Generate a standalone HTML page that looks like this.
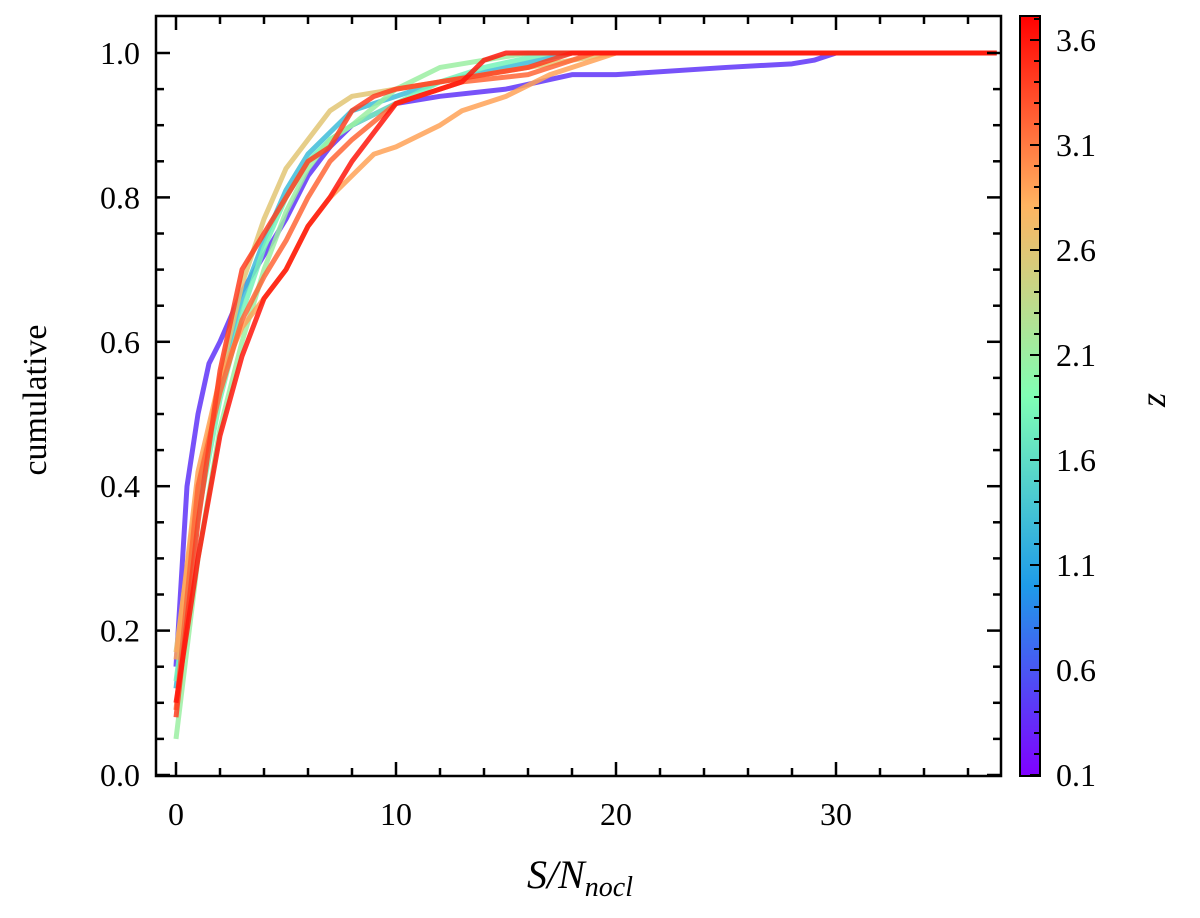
<!DOCTYPE html>
<html><head><meta charset="utf-8"><style>
body{margin:0;background:#fff}
svg{display:block;font-family:"Liberation Serif","DejaVu Serif",serif}
</style></head><body>
<svg id="c" width="1200" height="918" viewBox="0 0 1200 918">
<defs><linearGradient id="rb" x1="0" y1="1" x2="0" y2="0">
<stop offset="0" stop-color="#8000ff"/><stop offset="0.25" stop-color="#1e9be9"/><stop offset="0.5" stop-color="#80ffb4"/><stop offset="0.75" stop-color="#ffb461"/><stop offset="1" stop-color="#ff0000"/></linearGradient></defs>
<g id="series"></g>
<rect x="156" y="16" width="845" height="760" fill="none" stroke="#000" stroke-width="2.5"/>
<g id="axes"></g>
<rect x="1020" y="16" width="20" height="760" fill="url(#rb)" stroke="#000" stroke-width="2"/>
<g id="cb"></g>
<text x="46" y="400" font-size="34" text-anchor="middle" transform="rotate(-90 46 400)">cumulative</text>
<text x="580" y="888" font-size="40" font-style="italic" text-anchor="middle">S/N<tspan font-size="28" dy="8">nocl</tspan></text>
<text x="1165" y="400" font-size="36" font-style="italic" text-anchor="middle" transform="rotate(-90 1165 400)">z</text>
</svg>
<script>
const seriesZ=[0.4,1.3,1.8,2.1,2.6,2.9,3.2,3.4,3.6];
const seriesX=[
[0,0.5,1,1.5,2,3,4,5,6,7,8,10,12,15,18,20,25,28,29,30,37.3],
[0,1,2,3,4,5,6,7,8,10,12,15,18,37.3],
[0,1,2,3,4,5,6,7,8,10,12,14,17,37.3],
[0,1,2,3,4,5,6,7,8,10,12,14,16,37.3],
[0,1,2,3,4,5,6,7,8,9,12,16,20,37.3],
[0,1,2,3,4,5,6,7,8,9,10,12,13,15,17,19,20,37.3],
[0,1,2,3,4,5,6,7,8,10,13,16,18,19,37.3],
[0,1,2,3,4,5,6,7,8,9,10,12,14,16,18,37.3],
[0,1,2,3,4,5,6,7,8,9,10,12,13,14,15,37.3]];
const seriesY=[
[0.15,0.4,0.5,0.57,0.6,0.67,0.72,0.77,0.83,0.87,0.9,0.93,0.94,0.95,0.97,0.97,0.98,0.985,0.99,1,1],
[0.12,0.38,0.54,0.66,0.74,0.81,0.86,0.89,0.92,0.94,0.96,0.98,1,1],
[0.13,0.36,0.52,0.64,0.73,0.8,0.85,0.88,0.9,0.93,0.96,0.98,1,1],
[0.05,0.3,0.48,0.6,0.7,0.78,0.84,0.88,0.9,0.95,0.98,0.99,1,1],
[0.17,0.4,0.55,0.68,0.77,0.84,0.88,0.92,0.94,0.945,0.96,0.98,1,1],
[0.16,0.42,0.55,0.62,0.66,0.7,0.76,0.8,0.83,0.86,0.87,0.9,0.92,0.94,0.97,0.99,1,1],
[0.09,0.4,0.53,0.63,0.69,0.74,0.8,0.85,0.88,0.93,0.96,0.97,0.99,1,1],
[0.08,0.35,0.56,0.7,0.75,0.8,0.85,0.87,0.92,0.94,0.95,0.96,0.97,0.98,1,1],
[0.1,0.3,0.47,0.58,0.66,0.7,0.76,0.8,0.85,0.89,0.93,0.95,0.96,0.99,1,1]];
const xTicks=[0,10,20,30];
const yTicks=[0,0.2,0.4,0.6,0.8,1.0];
const cbTicks=[0.1,0.6,1.1,1.6,2.1,2.6,3.1,3.6];
const NS="http://www.w3.org/2000/svg";
const sx=v=>176+v*22, sy=v=>775-v*722, sz=v=>775-(v-0.1)*210;
const stops=[[0,[128,0,255]],[0.25,[30,155,233]],[0.5,[128,255,180]],[0.75,[255,180,97]],[1,[255,0,0]]];
function cmap(z){let t=(z-0.1)/(3.71-0.1);t=Math.max(0,Math.min(1,t));
for(let i=0;i<stops.length-1;i++){const[a,ca]=stops[i],[b,cb]=stops[i+1];if(t<=b){const f=(t-a)/(b-a);return 'rgb('+ca.map((c,k)=>Math.round(c+(cb[k]-c)*f)).join(',')+')';}}return 'red';}
function mk(tag,at,par){const e=document.createElementNS(NS,tag);for(const k in at)e.setAttribute(k,at[k]);par.appendChild(e);return e;}
const sg=document.getElementById('series'),ax=document.getElementById('axes'),cb=document.getElementById('cb');
seriesZ.forEach((z,i)=>{
const pts=seriesX[i].map((x,j)=>sx(x)+','+sy(seriesY[i][j])).join(' ');
const p=mk('polyline',{points:pts,fill:'none',stroke:cmap(z),'stroke-width':5,'stroke-opacity':0.85,'stroke-linejoin':'round'},sg);

});
for(let v=0;v<=36;v+=2){const x=sx(v),L=v%10===0?14:8;
mk('line',{x1:x,x2:x,y1:776,y2:776-L,stroke:'#000','stroke-width':2.5},ax);
mk('line',{x1:x,x2:x,y1:16,y2:16+L,stroke:'#000','stroke-width':2.5},ax);}
for(let k=0;k<=20;k++){const v=k*0.05,y=sy(v),L=k%4===0?14:8;
mk('line',{x1:156,x2:156+L,y1:y,y2:y,stroke:'#000','stroke-width':2.5},ax);
mk('line',{x1:1001,x2:1001-L,y1:y,y2:y,stroke:'#000','stroke-width':2.5},ax);}
xTicks.forEach(v=>{const t=mk('text',{x:sx(v),y:825,'font-size':32,'text-anchor':'middle'},ax);t.textContent=v;

});
yTicks.forEach(v=>{const t=mk('text',{x:140,y:sy(v)+11,'font-size':32,'text-anchor':'end'},ax);t.textContent=v.toFixed(1);

});
for(let k=0;k<=36;k++){const z=0.1+k*0.1,y=sz(z);if(y<17)break;const L=k%5===0?10:6;
mk('line',{x1:1040,x2:1040-L,y1:y,y2:y,stroke:'#000','stroke-width':2},cb);}
cbTicks.forEach(v=>{const t=mk('text',{x:1056,y:sz(v)+11,'font-size':32},cb);t.textContent=v.toFixed(1);

});
</script>
</body></html>
